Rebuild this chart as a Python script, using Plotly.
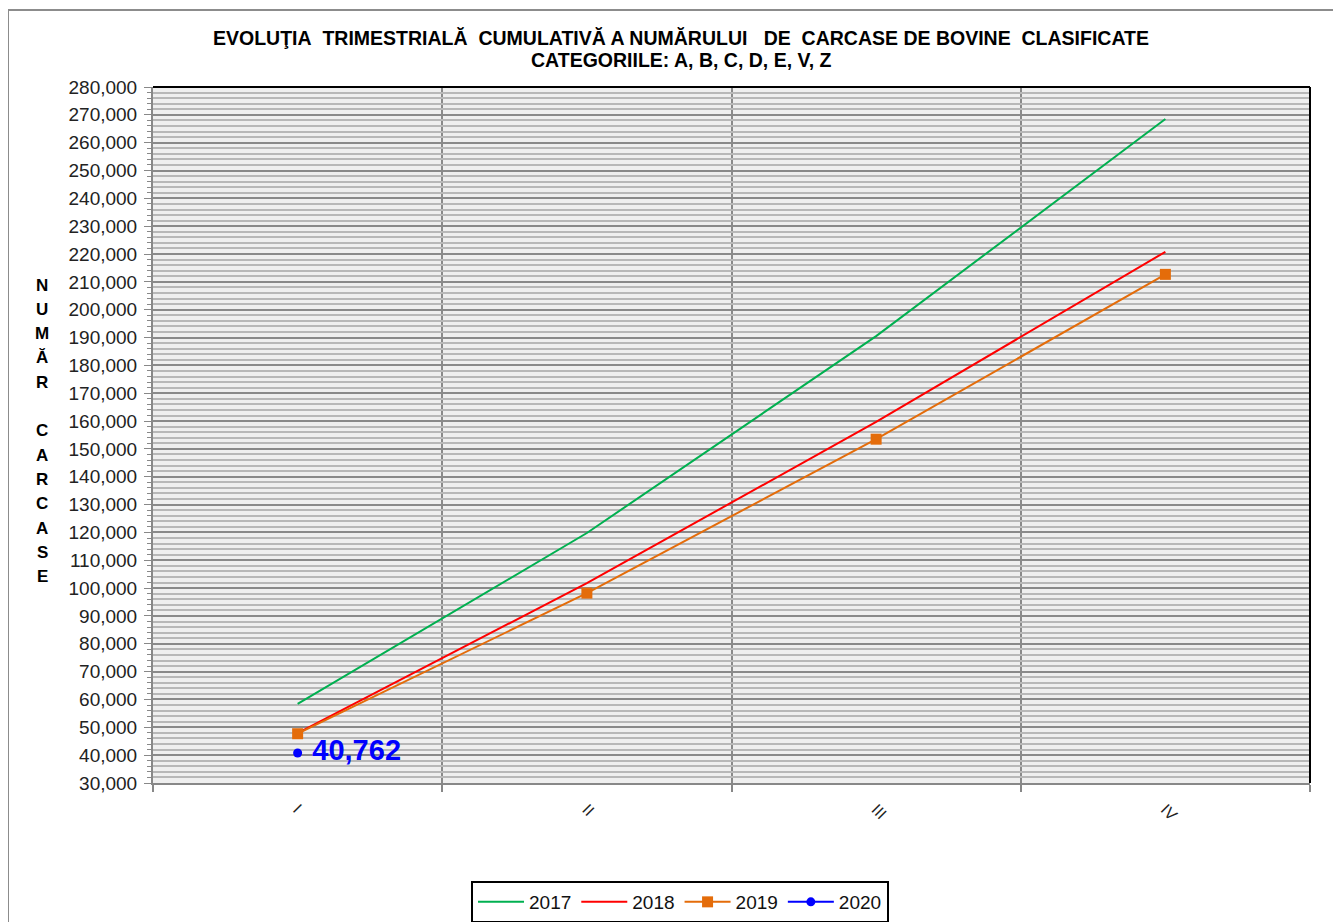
import plotly.graph_objects as go

quarters = ["I", "II", "III", "IV"]
v2017 = [58400, 119800, 190500, 268500]
v2018 = [47900, 101800, 159700, 220800]
v2019 = [47700, 98200, 153500, 212700]
v2020 = [40762]

title_l1 = ("EVOLUŢIA&nbsp; TRIMESTRIALĂ&nbsp; CUMULATIVĂ A NUMĂRULUI&nbsp;&nbsp; DE&nbsp; "
            "CARCASE DE BOVINE&nbsp; CLASIFICATE")
title_l2 = "CATEGORIILE: A, B, C, D, E, V, Z"
ytitle_letters = ["N", "U", "M", "Ă", "R", "", "C", "A", "R", "C", "A", "S", "E"]

xpos = list(range(len(quarters)))
FONT = "Liberation Sans, Arial, sans-serif"
OFF = 8  # page body margin

fig = go.Figure()
fig.add_trace(go.Scatter(x=xpos, y=v2017, name="2017", mode="lines",
                         line=dict(color="#00B050", width=2)))
fig.add_trace(go.Scatter(x=xpos, y=v2018, name="2018", mode="lines",
                         line=dict(color="#FF0000", width=2)))
fig.add_trace(go.Scatter(x=xpos, y=v2019, name="2019", mode="lines+markers",
                         line=dict(color="#E46C0A", width=2),
                         marker=dict(symbol="square", size=11, color="#E46C0A")))
fig.add_trace(go.Scatter(x=xpos[:len(v2020)], y=v2020, name="2020", mode="lines+markers+text",
                         line=dict(color="#0000FF", width=2),
                         marker=dict(symbol="circle", size=9, color="#0000FF"),
                         text=[f" {v:,}" for v in v2020], textposition="middle right",
                         textfont=dict(family=FONT, size=29, color="#0000FF", weight="bold")))

W, H = 1341 - OFF, 922 - OFF
L, R, T = 153 - OFF, 31, 87 - OFF
ph = 696
B = H - T - ph
pw = W - L - R

def px(xp):
    return (xp - OFF - L) / pw

def py(yp):
    return 1 - (yp - OFF - T) / ph

def cx(xp):
    return (xp - OFF) / W

def cy(yp):
    return 1 - (yp - OFF) / H

shapes = [
    dict(type="rect", xref="paper", yref="paper", x0=px(8), x1=px(1400), y0=py(1000), y1=py(10),
         line=dict(color="#8c8c8c", width=2), fillcolor="rgba(0,0,0,0)", layer="below"),
    dict(type="line", xref="paper", yref="paper", x0=0, x1=1, y0=1, y1=1,
         line=dict(color="#000000", width=2)),
    dict(type="line", xref="paper", yref="paper", x0=1, x1=1, y0=0, y1=1,
         line=dict(color="#000000", width=2)),
]

annotations = [
    dict(xref="paper", yref="paper", x=px(681), y=py(38), text=f"<b>{title_l1}</b>",
         showarrow=False, font=dict(family=FONT, size=19.5, color="#000"), xanchor="center", yanchor="middle"),
    dict(xref="paper", yref="paper", x=px(681), y=py(60), text=f"<b>{title_l2}</b>",
         showarrow=False, font=dict(family=FONT, size=19.5, color="#000"), xanchor="center", yanchor="middle"),
]
for i, ch in enumerate(ytitle_letters):
    if ch:
        annotations.append(dict(xref="paper", yref="paper", x=px(42), y=py(285 + i * 24.3),
                                text=f"<b>{ch}</b>", showarrow=False,
                                font=dict(family=FONT, size=17, color="#000"),
                                xanchor="center", yanchor="middle"))

fig.update_layout(
    width=W, height=H,
    margin=dict(l=L, r=R, t=T, b=B, autoexpand=False),
    paper_bgcolor="white",
    plot_bgcolor="#efefef",
    font=dict(family=FONT, size=15, color="#222"),
    shapes=shapes,
    annotations=annotations,
    legend=dict(orientation="h", xref="container", yref="container",
                x=cx(680), xanchor="center", y=cy(902), yanchor="middle",
                bordercolor="#000", borderwidth=2, bgcolor="white",
                font=dict(family=FONT, size=19, color="#111"), itemwidth=46,
                tracegroupgap=0),
    showlegend=True,
)
fig.update_xaxes(
    range=[-0.5, len(quarters) - 0.5],
    tickmode="array", tickvals=xpos, ticktext=quarters, tickangle=45,
    showgrid=False, zeroline=False, ticks="",
    showline=True, linecolor="#888888", linewidth=2,
    ticklabelstandoff=9,
    tickfont=dict(family=FONT, size=16, color="#222"),
    minor=dict(tickmode="array", tickvals=[i - 0.5 for i in range(len(quarters) + 1)],
               showgrid=True, gridcolor="#8a8a8a", gridwidth=1.5,
               ticks="outside", ticklen=7, tickcolor="#888888", tickwidth=2),
)
fig.update_yaxes(
    range=[30000, 280000], tickmode="linear", tick0=30000, dtick=10000,
    tickformat=",", showgrid=True, gridcolor="#8a8a8a", gridwidth=1.5,
    zeroline=False, showline=True, linecolor="#888888", linewidth=2,
    ticks="outside", ticklen=7, tickcolor="#888888",
    ticklabelstandoff=3,
    tickfont=dict(family=FONT, size=19, color="#222"),
    minor=dict(tick0=30000, dtick=2000, showgrid=True, gridcolor="#b8b8b8", gridwidth=2,
               ticks="outside", ticklen=4, tickcolor="#888888"),
)

fig.write_html("out.html")
